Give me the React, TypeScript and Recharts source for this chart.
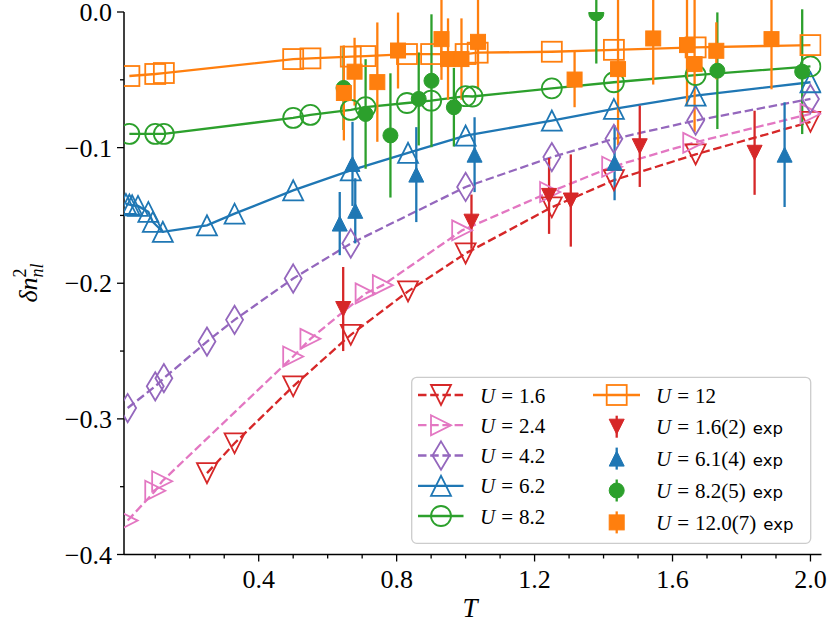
import React from 'react';
import { ComposedChart, Line, Scatter, XAxis, YAxis, ErrorBar } from 'recharts';

const RED = '#d62728';
const PINK = '#e377c2';
const PURPLE = '#9467bd';
const BLUE = '#1f77b4';
const GREEN = '#2ca02c';
const ORANGE = '#ff7f0e';

// model curves: temperature T and delta n^2_nl for each U
const tU16 = [0.25, 0.33, 0.5, 0.667, 0.833, 1.0, 1.25, 1.43, 1.667, 2.0];
const nU16 = [-0.340, -0.318, -0.276, -0.238, -0.206, -0.178, -0.144, -0.124, -0.105, -0.081];

const tU24 = [0.02, 0.1, 0.12, 0.5, 0.55, 0.71, 0.76, 0.99, 1.245, 1.425, 1.66, 2.0];
const nU24 = [-0.375, -0.353, -0.346, -0.254, -0.241, -0.2075, -0.2014, -0.161, -0.1327, -0.1141, -0.0965, -0.0751];

const tU42 = [0.02, 0.1, 0.125, 0.25, 0.33, 0.5, 0.667, 1.0, 1.25, 1.43, 1.667, 2.0];
const nU42 = [-0.292, -0.276, -0.270, -0.243, -0.227, -0.1965, -0.1707, -0.129, -0.107, -0.0935, -0.080, -0.0641];

const tU62 = [0.015, 0.025, 0.033, 0.05, 0.08, 0.093, 0.122, 0.25, 0.33, 0.5, 0.667, 0.833, 1.0, 1.25, 1.43, 1.667, 2.0];
const nU62 = [-0.1415, -0.142, -0.1425, -0.143, -0.1474, -0.1548, -0.1621, -0.1573, -0.1487, -0.1315, -0.1168, -0.1038, -0.0911, -0.0801, -0.0715, -0.0617, -0.0518];

const tU82 = [0.025, 0.1, 0.125, 0.5, 0.55, 0.667, 0.71, 0.83, 0.9, 1.0, 1.02, 1.25, 1.43, 1.667, 2.0];
const nU82 = [-0.0899, -0.0899, -0.0899, -0.0781, -0.0759, -0.0722, -0.0702, -0.0671, -0.0654, -0.0621, -0.0623, -0.0563, -0.0518, -0.0465, -0.0401];

const tU12 = [0.025, 0.1, 0.125, 0.5, 0.55, 0.667, 0.71, 0.83, 0.9, 1.0, 1.035, 1.25, 1.43, 1.667, 2.0];
const nU12 = [-0.0472, -0.0457, -0.045, -0.0347, -0.0342, -0.0329, -0.0325, -0.031, -0.031, -0.031, -0.030, -0.0293, -0.0279, -0.0261, -0.0244];

// experiment points with error bars
const tExp16 = [0.645, 1.017, 1.242, 1.305, 1.505, 1.838];
const nExp16 = [-0.219, -0.1546, -0.1356, -0.139, -0.099, -0.1038];
const eExp16 = [0.031, 0.02, 0.028, 0.034, 0.030, 0.031];

const tExp61 = [0.635, 0.672, 0.68, 0.857, 1.026, 1.432, 1.925];
const nExp61 = [-0.156, -0.112, -0.1466, -0.1199, -0.1052, -0.1112, -0.1052];
const eExp61 = [0.0233, 0.031, 0.024, 0.035, 0.0276, 0.0276, 0.0386];

const tExp82 = [0.646, 0.71, 0.782, 0.864, 0.901, 0.966, 1.379, 1.73, 1.976];
const nExp82 = [-0.056, -0.0752, -0.091, -0.0641, -0.0507, -0.0702, -0.001, -0.0433, -0.044];
const eExp82 = [0.031, 0.0404, 0.0458, 0.0343, 0.049, 0.029, 0.037, 0.043, 0.046];

const tExp12 = [0.647, 0.678, 0.744, 0.804, 0.93, 0.949, 0.988, 1.036, 1.316, 1.442, 1.544, 1.642, 1.664, 1.727, 1.887];
const nExp12 = [-0.0597, -0.044, -0.0517, -0.0284, -0.02, -0.0347, -0.0347, -0.022, -0.0498, -0.0421, -0.0195, -0.0244, -0.0384, -0.0286, -0.02];
const eExp12 = [0.035, 0.025, 0.044, 0.028, 0.03, 0.03, 0.03, 0.035, 0.0204, 0.056, 0.034, 0.045, 0.05, 0.021, 0.037];

const xTicks = [0.1, 0.2, 0.3, 0.4, 0.5, 0.6, 0.7, 0.8, 0.9, 1.0, 1.1, 1.2, 1.3, 1.4, 1.5, 1.6, 1.7, 1.8, 1.9, 2.0];
const yTicks = [-0.4, -0.35, -0.3, -0.25, -0.2, -0.15, -0.1, -0.05, 0];

const X_DOMAIN = [0.0094, 2.032];
const Y_DOMAIN = [-0.4, 0];

const toPts = (ts: number[], vs: number[], es?: number[]) =>
  ts.map((T, i) => ({ T, v: vs[i], err: es ? es[i] : 0 }));

const SERIF = '"Liberation Serif", "DejaVu Serif", serif';
const SANS = '"DejaVu Sans", sans-serif';

type Kind = 'v' | '^' | '>' | 'd' | 'o' | 's';

function marker(kind: Kind, cx: number, cy: number, color: string, filled: boolean, size: number, key?: any) {
  const h = size / 2;
  const st = {
    stroke: color,
    strokeWidth: filled ? 1 : 1.8,
    fill: filled ? color : 'none',
    strokeLinejoin: 'miter' as const,
  };
  if (cx == null || cy == null || isNaN(cx) || isNaN(cy)) return <g key={key} />;
  switch (kind) {
    case 'v':
      return <path key={key} d={`M${cx - h},${cy - h}L${cx + h},${cy - h}L${cx},${cy + h}Z`} {...st} />;
    case '^':
      return <path key={key} d={`M${cx - h},${cy + h}L${cx + h},${cy + h}L${cx},${cy - h}Z`} {...st} />;
    case '>':
      return <path key={key} d={`M${cx - h},${cy - h}L${cx + h},${cy}L${cx - h},${cy + h}Z`} {...st} />;
    case 'd': {
      const hh = size * 0.707;
      const hw = size * 0.424;
      return <path key={key} d={`M${cx},${cy - hh}L${cx + hw},${cy}L${cx},${cy + hh}L${cx - hw},${cy}Z`} {...st} />;
    }
    case 'o':
      return <circle key={key} cx={cx} cy={cy} r={h} {...st} />;
    default:
      return <rect key={key} x={cx - h} y={cy - h} width={size} height={size} {...st} />;
  }
}

const MS = 20;
const MS_EXP = 15;
const DASH = '8.5 3.7';

const models = [
  { name: '1.6', t: tU16, n: nU16, color: RED, kind: 'v' as Kind, dash: true },
  { name: '2.4', t: tU24, n: nU24, color: PINK, kind: '>' as Kind, dash: true },
  { name: '4.2', t: tU42, n: nU42, color: PURPLE, kind: 'd' as Kind, dash: true },
  { name: '6.2', t: tU62, n: nU62, color: BLUE, kind: '^' as Kind, dash: false },
  { name: '8.2', t: tU82, n: nU82, color: GREEN, kind: 'o' as Kind, dash: false },
  { name: '12', t: tU12, n: nU12, color: ORANGE, kind: 's' as Kind, dash: false },
];

const exps = [
  { name: '1.6(2)', t: tExp16, n: nExp16, e: eExp16, color: RED, kind: 'v' as Kind },
  { name: '6.1(4)', t: tExp61, n: nExp61, e: eExp61, color: BLUE, kind: '^' as Kind },
  { name: '8.2(5)', t: tExp82, n: nExp82, e: eExp82, color: GREEN, kind: 'o' as Kind },
  { name: '12.0(7)', t: tExp12, n: nExp12, e: eExp12, color: ORANGE, kind: 's' as Kind },
];

const isMajorX = (v: number) => Math.round(v * 10) % 4 === 0;
const isMajorY = (v: number) => Math.abs(v * 10 - Math.round(v * 10)) < 1e-6;

const XTick = (props: any) => {
  const { x, y, payload } = props;
  const v = payload.value;
  const major = isMajorX(v);
  return (
    <g>
      <line x1={x} x2={x} y1={y} y2={y + (major ? 7 : 4)} stroke="#000" strokeWidth={1.3} />
      {major && (
        <text x={x} y={y + 33} textAnchor="middle" fontSize={26} fontFamily={SERIF} fill="#000">
          {v.toFixed(1)}
        </text>
      )}
    </g>
  );
};

const YTick = (props: any) => {
  const { x, y, payload } = props;
  const v = payload.value;
  const major = isMajorY(v);
  const label = v === 0 ? '0.0' : '\u2212' + Math.abs(v).toFixed(1);
  return (
    <g>
      <line x1={x} x2={x - (major ? 7 : 4)} y1={y} y2={y} stroke="#000" strokeWidth={1.3} />
      {major && (
        <text x={x - 12} y={y + 9} textAnchor="end" fontSize={26} fontFamily={SERIF} fill="#000">
          {label}
        </text>
      )}
    </g>
  );
};

function MathLabel({ x, y, value, extra }: { x: number; y: number; value: string; extra?: boolean }) {
  return (
    <text x={x} y={y} fontSize={21} fontFamily={SERIF} fill="#000">
      <tspan fontStyle="italic">U</tspan>
      <tspan dx={6}>=</tspan>
      <tspan dx={6}>{value}</tspan>
      {extra && (
        <tspan dx={7} fontFamily={SANS} fontSize={16.5}>
          exp
        </tspan>
      )}
    </text>
  );
}

function LegendBox() {
  const col1Y = [395, 425.2, 455.5, 485.8, 516];
  const col2Y = [395, 426.7, 458.6, 490.5, 522.4];
  return (
    <g>
      <rect x={411.7} y={377.3} width={399} height={166} rx={5} fill="#fff" fillOpacity={0.8} stroke="#cccccc" strokeWidth={1.3} />
      {models.slice(0, 5).map((m, i) => (
        <g key={m.name}>
          <line x1={418} x2={463.5} y1={col1Y[i]} y2={col1Y[i]} stroke={m.color} strokeWidth={2.3} strokeDasharray={m.dash ? DASH : undefined} />
          {marker(m.kind, 441, col1Y[i], m.color, false, MS)}
          <MathLabel x={480} y={col1Y[i] + 7.5} value={m.name} />
        </g>
      ))}
      <g>
        <line x1={593} x2={640} y1={col2Y[0]} y2={col2Y[0]} stroke={ORANGE} strokeWidth={2.3} />
        {marker('s', 616.7, col2Y[0], ORANGE, false, MS)}
        <MathLabel x={656} y={col2Y[0] + 7.5} value="12" />
      </g>
      {exps.map((s, i) => (
        <g key={s.name}>
          <line x1={616.7} x2={616.7} y1={col2Y[i + 1] - 11} y2={col2Y[i + 1] + 11} stroke={s.color} strokeWidth={2.3} />
          {marker(s.kind, 616.7, col2Y[i + 1], s.color, true, MS_EXP)}
          <MathLabel x={656} y={col2Y[i + 1] + 7.5} value={s.name} extra />
        </g>
      ))}
    </g>
  );
}

export default function App() {
  return (
    <div style={{ position: 'absolute', left: 0, top: 0, width: 830, height: 623, background: '#fff' }}>
      <ComposedChart width={830} height={623} margin={{ top: 12, right: 8.5, bottom: 0, left: 0 }}>
        <XAxis
          type="number"
          dataKey="T"
          domain={X_DOMAIN}
          allowDataOverflow
          ticks={xTicks}
          interval={0}
          tick={<XTick />}
          tickLine={false}
          tickSize={0}
          tickMargin={0}
          height={68.5}
          axisLine={{ stroke: '#000', strokeWidth: 1.5 }}
        />
        <XAxis
          xAxisId="top"
          orientation="top"
          type="number"
          domain={X_DOMAIN}
          allowDataOverflow
          tick={false}
          tickLine={false}
          height={0}
          axisLine={{ stroke: '#000', strokeWidth: 1.5 }}
        />
        <YAxis
          type="number"
          dataKey="v"
          domain={Y_DOMAIN}
          allowDataOverflow
          ticks={yTicks}
          interval={0}
          tick={<YTick />}
          tickLine={false}
          tickSize={0}
          tickMargin={0}
          width={124}
          axisLine={{ stroke: '#000', strokeWidth: 1.5 }}
        />
        <YAxis
          yAxisId="right"
          orientation="right"
          type="number"
          domain={Y_DOMAIN}
          allowDataOverflow
          tick={false}
          tickLine={false}
          width={0}
          axisLine={{ stroke: '#000', strokeWidth: 1.5 }}
        />
        {models.map((m) => (
          <Line
            key={'m' + m.name}
            data={toPts(m.t, m.n)}
            dataKey="v"
            type="linear"
            stroke={m.color}
            strokeWidth={2.3}
            strokeDasharray={m.dash ? DASH : undefined}
            dot={(p: any) => marker(m.kind, p.cx, p.cy, m.color, false, MS, p.index)}
            activeDot={false}
            isAnimationActive={false}
          />
        ))}
        {exps.map((s) => (
          <Scatter
            key={'e' + s.name}
            data={toPts(s.t, s.n, s.e)}
            dataKey="v"
            fill={s.color}
            shape={(p: any) => marker(s.kind, p.cx, p.cy, s.color, true, MS_EXP)}
            isAnimationActive={false}
          >
            <ErrorBar dataKey="err" direction="y" width={0} stroke={s.color} strokeWidth={2.3} />
          </Scatter>
        ))}
      </ComposedChart>
      <svg width={830} height={623} style={{ position: 'absolute', left: 0, top: 0, pointerEvents: 'none' }}>
        <text transform="translate(37,283) rotate(-90)" textAnchor="middle" fontSize={26} fontFamily={SERIF} fill="#000">
          <tspan fontStyle="italic">δn</tspan>
          <tspan fontSize={18} dy={-11}>2</tspan>
          <tspan fontSize={18} fontStyle="italic" dx={-9} dy={17}>nl</tspan>
        </text>
        <text x={470} y={617} textAnchor="middle" fontSize={27} fontStyle="italic" fontFamily={SERIF} fill="#000">
          T
        </text>
        <LegendBox />
      </svg>
    </div>
  );
}
